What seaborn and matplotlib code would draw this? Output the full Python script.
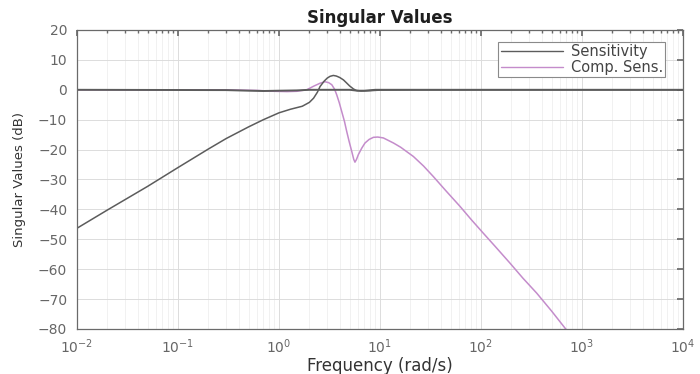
import numpy as np
import pandas as pd
import seaborn as sns
import matplotlib
matplotlib.use("Agg")
import matplotlib.pyplot as plt
from matplotlib.lines import Line2D
from matplotlib.ticker import LogLocator, FixedLocator, NullFormatter

# Sensitivity: low-frequency singular value (rises, peaks, returns to 0 dB)
sens_lo_freq = [0.01, 0.02, 0.05, 0.1, 0.2, 0.3, 0.5, 0.7, 1.0, 1.3, 1.7, 2.0,
                2.2, 2.4, 2.55, 2.8, 3.0, 3.2, 3.45, 3.7, 4.0, 4.35, 4.7, 5.0,
                5.45, 5.8, 6.5, 8.0, 10.0, 20.0, 1e4]
sens_lo_db = [-46.3, -40.2, -32.3, -26.0, -19.8, -16.3, -12.4, -10.0, -7.7, -6.5,
              -5.5, -4.2, -2.8, -0.8, 1.1, 2.9, 3.9, 4.5, 4.8, 4.6, 4.1, 3.3, 2.2,
              1.3, 0.3, -0.2, -0.4, -0.3, -0.1, 0.0, 0.0]

# Sensitivity: second singular value near 0 dB
sens_hi_freq = [0.01, 0.3, 0.5, 0.7, 1.0, 1.5, 2.0, 5.0, 6.0, 7.0, 9.0, 1e4]
sens_hi_db = [0.0, -0.1, -0.3, -0.4, -0.3, -0.2, 0.0, 0.0, -0.3, -0.3, 0.0, 0.0]

# Complementary sensitivity
comp_freq = [0.01, 0.3, 0.6, 0.9, 1.2, 1.5, 1.88, 2.2, 2.55, 2.85, 3.1, 3.33,
             3.55, 3.73, 3.95, 4.18, 4.45, 4.68, 4.95, 5.25, 5.5, 5.65, 5.85,
             6.1, 6.6, 7.1, 7.8, 8.6, 9.5, 10.8, 13.6, 16.0, 21.4, 27.0, 33.7,
             45.0, 62.0, 80.0, 105.0, 140.0, 194.0, 260.0, 356.0, 500.0, 679.0,
             1000.0]
comp_db = [0.0, 0.0, -0.2, -0.5, -0.6, -0.5, 0.0, 1.2, 2.2, 2.7, 2.4, 1.7, 0.2,
           -1.7, -4.3, -7.3, -10.6, -13.9, -17.3, -20.6, -23.3, -24.2, -23.3,
           -21.7, -19.5, -17.8, -16.6, -15.9, -15.8, -16.1, -17.8, -19.2, -22.3,
           -25.5, -29.0, -33.8, -39.0, -43.4, -47.9, -52.6, -58.0, -63.0, -68.0,
           -74.0, -79.7, -86.4]

series_names = ["Sensitivity", "Comp. Sens."]
series_colors = {"Sensitivity": "#5c5c5c", "Comp. Sens.": "#c48ccb"}

x_ticks = [1e-2, 1e-1, 1e0, 1e1, 1e2, 1e3, 1e4]
y_ticks = [20, 10, 0, -10, -20, -30, -40, -50, -60, -70, -80]

sns.set_theme(style="white")
plt.rcParams["font.family"] = ["DejaVu Sans"]
plt.rcParams["mathtext.fontset"] = "dejavusans"

fig = plt.figure(figsize=(7.0, 3.74), dpi=100)
ax = fig.add_axes([77 / 700, 45 / 374, 606 / 700, 299 / 374])

df_s1 = pd.DataFrame({"freq": sens_lo_freq, "db": sens_lo_db})
df_s2 = pd.DataFrame({"freq": sens_hi_freq, "db": sens_hi_db})
df_c = pd.DataFrame({"freq": comp_freq, "db": comp_db})

sns.lineplot(data=df_c, x="freq", y="db", ax=ax, color=series_colors["Comp. Sens."],
             lw=1.1, sort=False, estimator=None, label="_c")
sns.lineplot(data=df_s2, x="freq", y="db", ax=ax, color=series_colors["Sensitivity"],
             lw=1.4, sort=False, estimator=None, label="_s2")
sns.lineplot(data=df_s1, x="freq", y="db", ax=ax, color=series_colors["Sensitivity"],
             lw=1.1, sort=False, estimator=None, label="_s1")

ax.set_xscale("log")
ax.set_xlim(1e-2, 1e4)
ax.set_ylim(-80, 20)
ax.yaxis.set_major_locator(FixedLocator(y_ticks))
ax.xaxis.set_major_locator(FixedLocator(x_ticks))
ax.xaxis.set_minor_locator(FixedLocator(
    [m * d for d in x_ticks[:-1] for m in range(2, 10)]))
ax.xaxis.set_minor_formatter(NullFormatter())

ax.grid(which="major", color="#dcdcdc", lw=0.7)
ax.grid(which="minor", axis="x", color="#efefef", lw=0.6)
ax.set_axisbelow(True)

for s in ax.spines.values():
    s.set_color("#6a6a6a")
    s.set_linewidth(0.9)
ax.tick_params(which="both", direction="in", top=True, right=True,
               colors="#6a6a6a", labelcolor="#666666", labelsize=10)
ax.tick_params(which="major", length=4)
ax.tick_params(which="minor", length=2)
ax.tick_params(axis="y", which="major", pad=7)
ax.tick_params(axis="x", which="major", pad=6)

ax.set_title("Singular Values", fontsize=12, fontweight="bold", color="#1e1e1e", pad=5)
ax.set_xlabel("Frequency (rad/s)", fontsize=12, color="#333333", labelpad=1)
ax.set_ylabel("Singular Values (dB)", fontsize=9.5, color="#333333", labelpad=9)

handles = [Line2D([], [], color=series_colors[n], lw=1.0) for n in series_names]
leg = ax.legend(handles, series_names, loc="upper right",
                bbox_to_anchor=((665 - 77) / 606, 1 - 12 / 299), borderaxespad=0,
                fontsize=10.5, handlelength=4.3, fancybox=False, framealpha=1,
                edgecolor="#8a8a8a", labelspacing=0.05, borderpad=0.15,
                handletextpad=0.5)
for t in leg.get_texts():
    t.set_color("#444444")
leg.get_frame().set_linewidth(0.8)

fig.savefig("out.png", dpi=100)
